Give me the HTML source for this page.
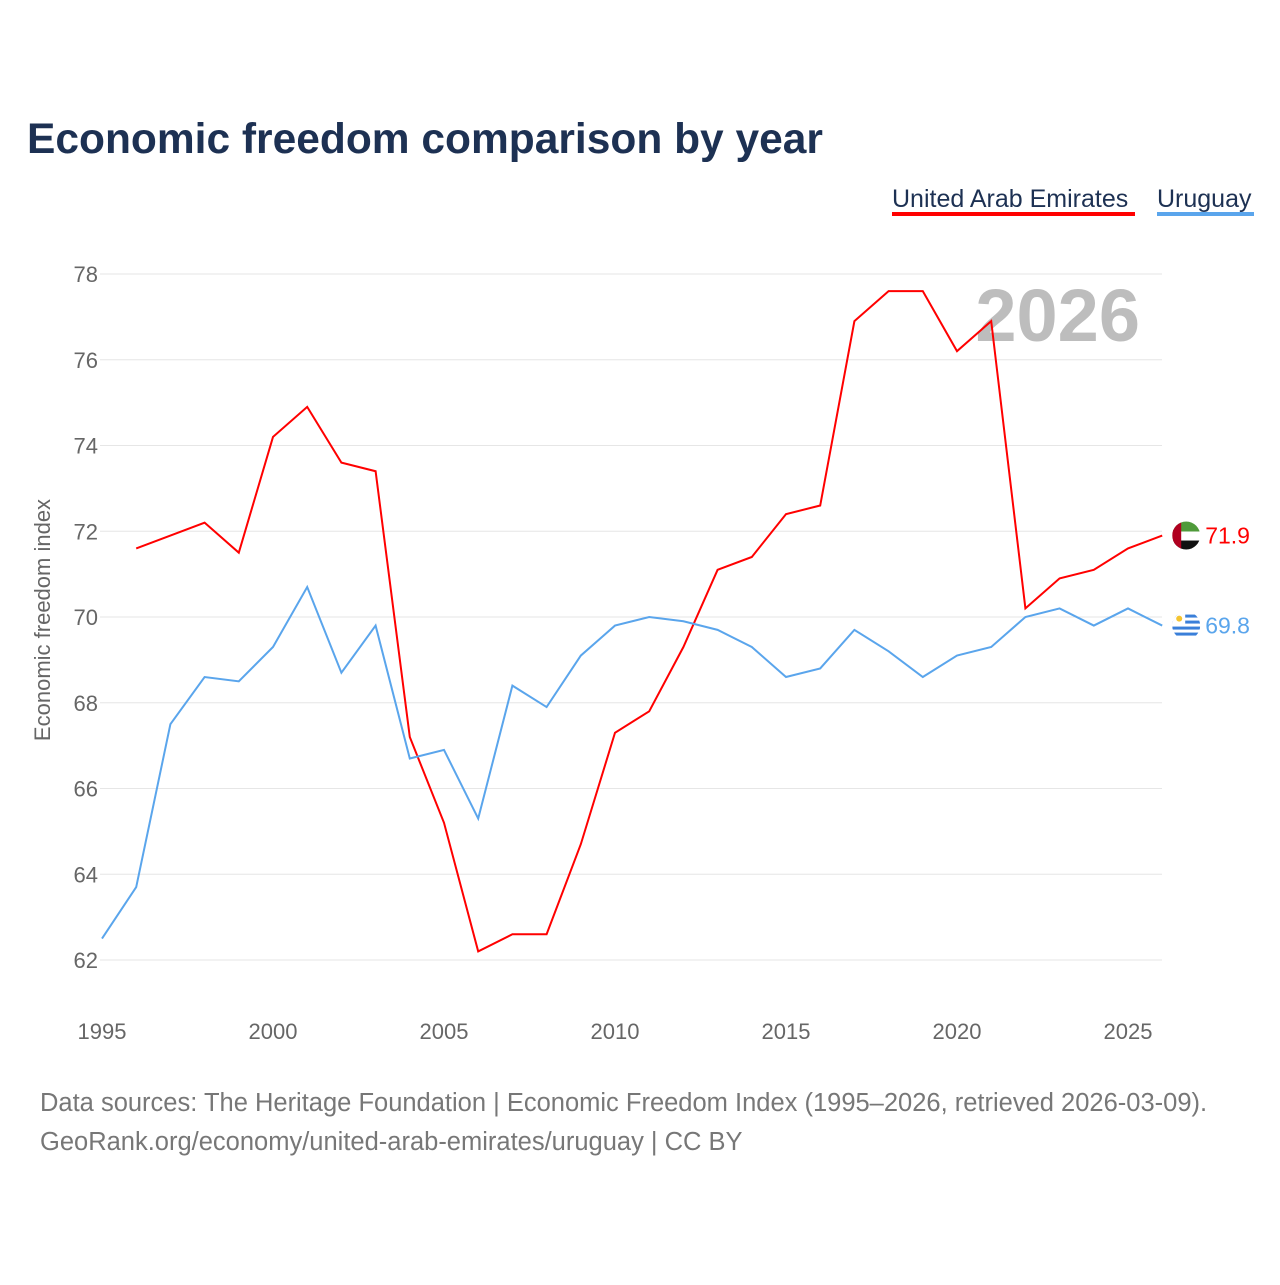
<!DOCTYPE html>
<html><head><meta charset="utf-8"><style>
body{margin:0;background:#fff;font-family:"Liberation Sans",sans-serif}
</style></head><body>
<svg id="chart" width="1280" height="1280" xmlns="http://www.w3.org/2000/svg">
<defs>
<clipPath id="cu"><circle cx="1186" cy="535" r="14"/></clipPath>
<clipPath id="cy"><circle cx="1186" cy="625" r="14"/></clipPath>
</defs>
<text x="27" y="153" font-size="42.5" font-weight="bold" fill="#1d3153">Economic freedom comparison by year</text>
<g>
<text x="892" y="207" font-size="25" fill="#1d3153">United Arab Emirates</text>
<rect x="892" y="212" width="243" height="4" fill="#ff0000"/>
<text x="1157" y="207" font-size="25" fill="#1d3153">Uruguay</text>
<rect x="1157" y="212" width="97" height="4" fill="#5aa5ec"/>
</g>
<text x="1140" y="341" font-size="74" font-weight="bold" fill="#bdbdbd" text-anchor="end">2026</text>
<g id="grid"></g><g id="lines"></g>
<text transform="translate(50,620) rotate(-90)" font-size="22" fill="#666" text-anchor="middle">Economic freedom index</text>
<text x="40" y="1111" font-size="25.5" fill="#777">Data sources: The Heritage Foundation | Economic Freedom Index (1995–2026, retrieved 2026-03-09).</text>
<text x="40" y="1150" font-size="25.5" fill="#777">GeoRank.org/economy/united-arab-emirates/uruguay | CC BY</text>
</svg>
<script>
const yearsUAE=[1996,1997,1998,1999,2000,2001,2002,2003,2004,2005,2006,2007,2008,2009,2010,2011,2012,2013,2014,2015,2016,2017,2018,2019,2020,2021,2022,2023,2024,2025,2026];
const valuesUAE=[71.6,71.9,72.2,71.5,74.2,74.9,73.6,73.4,67.2,65.2,62.2,62.6,62.6,64.7,67.3,67.8,69.3,71.1,71.4,72.4,72.6,76.9,77.6,77.6,76.2,76.9,70.2,70.9,71.1,71.6,71.9];
const yearsURY=[1995,1996,1997,1998,1999,2000,2001,2002,2003,2004,2005,2006,2007,2008,2009,2010,2011,2012,2013,2014,2015,2016,2017,2018,2019,2020,2021,2022,2023,2024,2025,2026];
const valuesURY=[62.5,63.7,67.5,68.6,68.5,69.3,70.7,68.7,69.8,66.7,66.9,65.3,68.4,67.9,69.1,69.8,70.0,69.9,69.7,69.3,68.6,68.8,69.7,69.2,68.6,69.1,69.3,70.0,70.2,69.8,70.2,69.8];
const yTicks=[62,64,66,68,70,72,74,76,78];
const xTicks=[1995,2000,2005,2010,2015,2020,2025];
const NS="http://www.w3.org/2000/svg";
const xs=y=>102+(y-1995)*34.2;
const ys=v=>960-(v-62)*42.875;
function mk(t,a,p){const e=document.createElementNS(NS,t);for(const k in a)e.setAttribute(k,a[k]);p.appendChild(e);return e;}
const grid=document.getElementById('grid'),lines=document.getElementById('lines');
yTicks.forEach(v=>{
 const l=mk('line',{x1:100,x2:1162,y1:ys(v),y2:ys(v),stroke:'#e6e6e6','stroke-width':1},grid);
 
 
 const t=mk('text',{x:98,y:ys(v)+8,'font-size':22,fill:'#666','text-anchor':'end'},grid);t.textContent=v;
 
 
});
xTicks.forEach(y=>{
 const t=mk('text',{x:xs(y),y:1039,'font-size':22,fill:'#666','text-anchor':'middle'},grid);t.textContent=y;
 
 
});
function flag(name,cx,cy){
 const g=mk('g',{'clip-path':name==='uae'?'url(#cu)':'url(#cy)',transform:'translate('+(cx-1186)+','+(cy-(name==='uae'?535:625))+')'},lines);
 
 
 if(name==='uae'){
  const by=535;
  mk('rect',{x:1172,y:by-14,width:28,height:10,fill:'#4f9a3a'},g);
  mk('rect',{x:1172,y:by-4,width:28,height:9,fill:'#fff'},g);
  mk('rect',{x:1172,y:by+5,width:28,height:10,fill:'#111'},g);
  mk('rect',{x:1172,y:by-14,width:9,height:28,fill:'#b00020'},g);
 } else {
  const by=625;
  mk('rect',{x:1172,y:by-14,width:28,height:28,fill:'#fff'},g);
  [-11,-5,1,7].forEach(o=>mk('rect',{x:1172,y:by+o,width:28,height:3,fill:'#3a7fd9'},g));
  mk('rect',{x:1172,y:by-14,width:13,height:13,fill:'#fff'},g);
  mk('circle',{cx:1179,cy:by-7,r:3,fill:'#f4c430'},g);
 }
}
function series(ys_,vs,color,name){
 const p=mk('polyline',{points:ys_.map((y,i)=>xs(y)+','+ys(vs[i])).join(' '),fill:'none',stroke:color,'stroke-width':2},lines);
 
 
 const lx=xs(ys_[ys_.length-1]),lv=vs[vs.length-1];
 flag(name,lx+24,ys(lv));
 const t=mk('text',{x:lx+43,y:ys(lv)+8,'font-size':23,fill:color},lines);t.textContent=lv.toFixed(1);
 
 
}
series(yearsUAE,valuesUAE,'#ff0000','uae');
series(yearsURY,valuesURY,'#5aa5ec','uruguay');
</script>
</body></html>
